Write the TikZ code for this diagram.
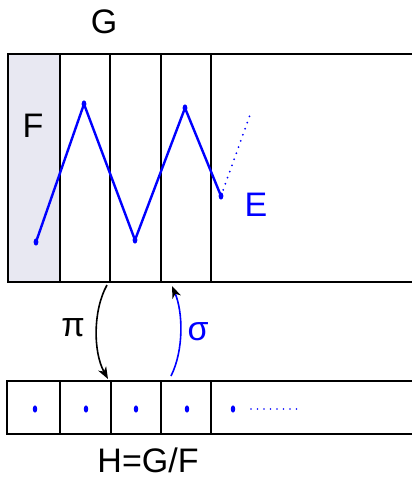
\documentclass[tikz,border=0pt]{standalone}
\usepackage{fontspec}
\setmainfont{Liberation Sans}
\usetikzlibrary{arrows.meta}
\definecolor{fshade}{RGB}{232,232,242}

\begin{document}
\begin{tikzpicture}[x=1pt, y=-1pt,
    frame/.style={draw=black, line width=1.6pt},
    cellsep/.style={draw=black, line width=1.4pt},
    zigzag/.style={draw=blue, line width=2.4pt, line join=miter},
    dotline/.style={draw=blue, line width=2pt, line cap=round, dash pattern=on 0pt off 6.5pt},
    lbl/.style={inner sep=0pt, font=\fontsize{34}{40}\selectfont},
    mapto/.style={line width=1.6pt, -{Stealth[length=12pt, width=9pt, inset=3.5pt, black]}}
]
\useasboundingbox (0,0) rectangle (412,477);
\clip (0,0) rectangle (412,477);

% group G with subgroup F
\fill[fshade] (8,54) rectangle (60,282);
\draw[frame] (8,54) rectangle (440,282);
\foreach \x in {60,110,161,211} \draw[cellsep] (\x,54) -- (\x,282);

% quotient H
\draw[frame] (7,381) rectangle (440,434);
\foreach \x in {60,111,161,211} \draw[cellsep] (\x,381) -- (\x,434);

% labels
\node[lbl] (labG) at (104,22) {G};
\node[lbl] (labF) at (33,126) {F};
\node[lbl, text=blue] (labE) at (256,205) {E};
\node[lbl] (labPi) at (73,328) {π};
\node[lbl, text=blue] (labSigma) at (198,332) {σ};
\node[lbl] (labH) at (148,460) {H=G/F};

% section E
\coordinate (e0) at (36,242);
\coordinate (e1) at (84,104);
\coordinate (e2) at (135,240);
\coordinate (e3) at (185,108);
\coordinate (e4) at (221,196);
\coordinate (e5) at (250,115);
\draw[zigzag] (e0) -- (e1) -- (e2) -- (e3) -- (e4);
\draw[dotline] (e4) -- (e5);
\foreach \p in {e0,e1,e2,e3,e4} \fill[blue] (\p) ellipse (2.4pt and 3.6pt);

% points of H
\foreach \x [count=\i] in {35,86,136,187,233} \coordinate (h\i) at (\x,409);
\foreach \i in {1,...,5} \fill[blue] (h\i) ellipse (2.2pt and 3.6pt);
\coordinate (hEnd) at (300,409);
\draw[dotline, line width=1.8pt] ([xshift=18pt]h5) -- (hEnd);

% projection and section
\coordinate (piTop) at (107,285);
\coordinate (piBot) at (108,379);
\coordinate (sgBot) at (171,376);
\coordinate (sgTop) at (172,286);
\draw[mapto] (piTop) .. controls (93,310) and (93,352) .. (piBot);
\draw[mapto, blue] (sgBot) .. controls (184,350) and (183,312) .. (sgTop);

\end{tikzpicture}
\end{document}
